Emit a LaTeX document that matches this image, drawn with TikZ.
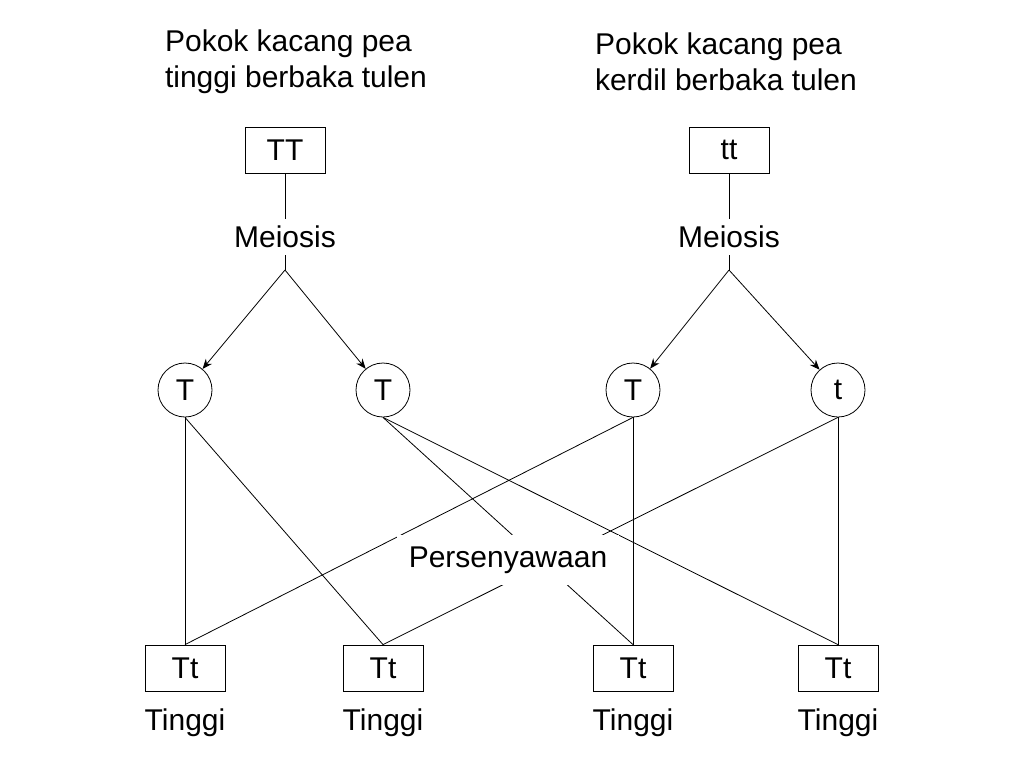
\documentclass[tikz,border=0pt]{standalone}
\usepackage{fontspec}
\setmainfont{Liberation Sans}
\usetikzlibrary{arrows.meta,positioning}

\begin{document}
\begin{tikzpicture}[x=0.5pt,y=-0.5pt,font=\fontsize{15}{18}\selectfont,
    box/.style={draw,minimum width=40pt,minimum height=23pt,inner sep=0pt},
    gamete/.style={draw,circle,minimum size=27pt,inner sep=0pt},
    arr/.style={-{Stealth[length=5pt,width=4pt]}}]
    \useasboundingbox (0,0) rectangle (1024,768);

    % Titles
    \node[align=left,anchor=west] (titleL) at (158,62) {Pokok kacang pea\\tinggi berbaka tulen};
    \node[align=left,anchor=west] (titleR) at (588,62) {Pokok kacang pea\\kerdil berbaka tulen};

    % Parents
    \node[box] (parL) at (285,150) {TT};
    \node[box] (parR) at (729,150) {tt};
    \node (meiL) at (285,237) {Meiosis};
    \node (meiR) at (729,237) {Meiosis};
    \coordinate (splitL) at (285,270);
    \coordinate (splitR) at (729,270);

    % Gametes
    \node[gamete] (g1) at (185,390) {T};
    \node[gamete] (g2) at (383,390) {T};
    \node[gamete] (g3) at (633,390) {T};
    \node[gamete] (g4) at (838,390) {t};

    % Offspring
    \node[box] (f1) at (185,668) {Tt};
    \node[box] (f2) at (383,668) {Tt};
    \node[box] (f3) at (633,668) {Tt};
    \node[box] (f4) at (838,668) {Tt};
    \node (h1) at (185,723) {Tinggi};
    \node (h2) at (383,723) {Tinggi};
    \node (h3) at (633,723) {Tinggi};
    \node (h4) at (838,723) {Tinggi};

    % Parent to gametes
    \draw (parL) -- (meiL);
    \draw (parR) -- (meiR);
    \draw (meiL) -- (splitL);
    \draw (meiR) -- (splitR);
    \draw[arr] (splitL) -- (g1);
    \draw[arr] (splitL) -- (g2);
    \draw[arr] (splitR) -- (g3);
    \draw[arr] (splitR) -- (g4);

    % Fertilisation
    \draw (g1.south) -- (f1.north);
    \draw (g1.south) -- (f2.north);
    \draw (g2.south) -- (f3.north);
    \draw (g2.south) -- (f4.north);
    \draw (g3.south) -- (f1.north);
    \draw (g3.south) -- (f3.north);
    \draw (g4.south) -- (f2.north);
    \draw (g4.south) -- (f4.north);
    \node[fill=white,inner sep=6pt] (fert) at (508,560) {Persenyawaan};
\end{tikzpicture}
\end{document}
